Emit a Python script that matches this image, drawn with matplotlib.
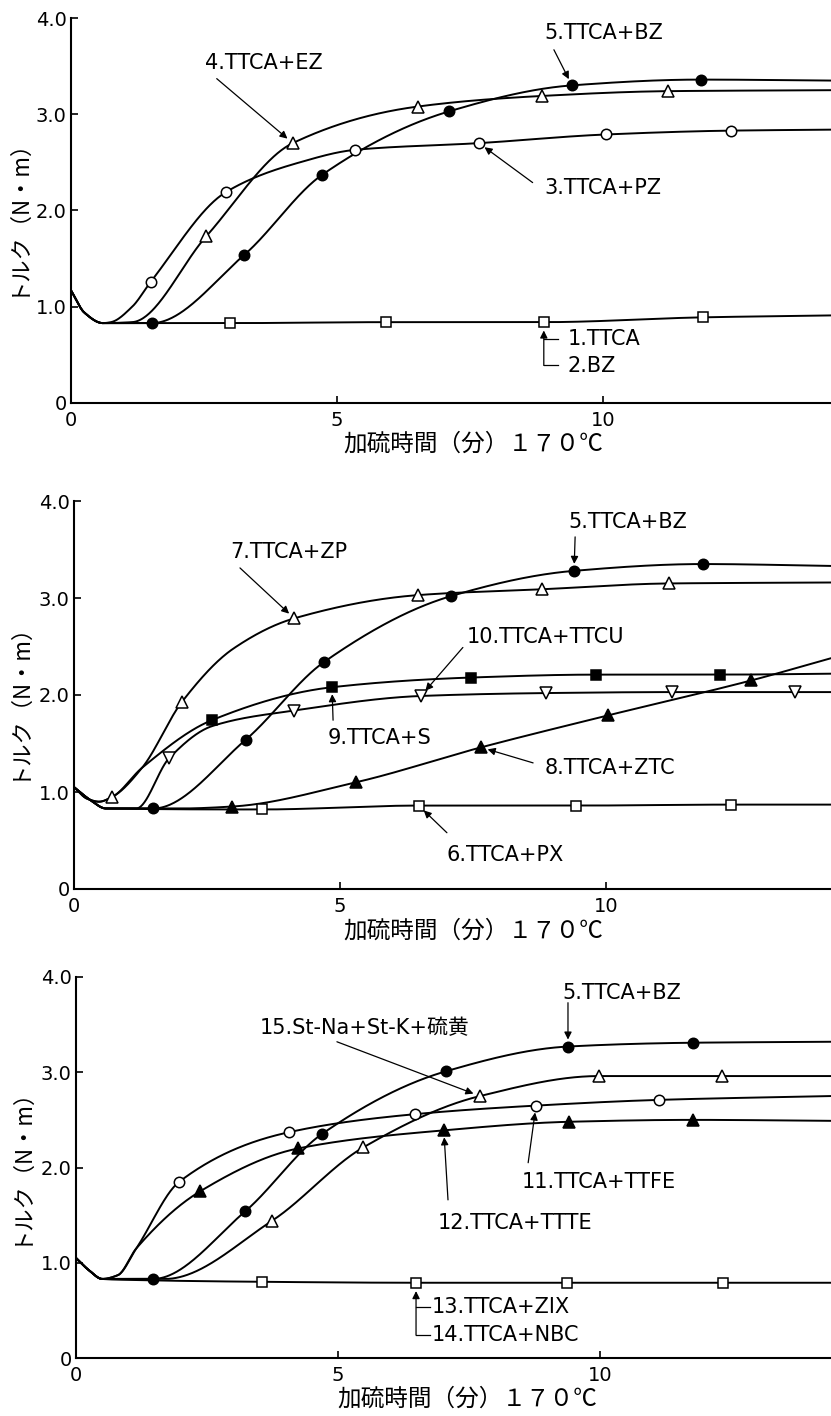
import matplotlib.pyplot as plt
import numpy as np

plt.rcParams['font.family'] = ['DejaVu Sans', 'Noto Sans CJK JP']
JP = ['Noto Sans CJK JP', 'DejaVu Sans']

XLABEL = '加硫時間（分）１７０℃'
YLABEL = 'トルク（N・m）'
Y_TICKS = [0, 1, 2, 3, 4]
Y_TICKLABELS = ['0', '1.0', '2.0', '3.0', '4.0']
X_TICKS = [0, 5, 10]
X_TICKLABELS = ['0', '5', '10']

# ---- panel 1 ----  (X/Y = marked points, KX/KY = unmarked points on the curve)
P1_TTCA_X = [2.99, 5.92, 8.89, 11.88]
P1_TTCA_Y = [0.83, 0.84, 0.84, 0.89]
P1_TTCA_KX = [0, 0.25, 0.6, 1.5, 14.3]
P1_TTCA_KY = [1.17, 0.94, 0.83, 0.83, 0.91]

P1_PZ_X = [1.50, 2.91, 5.34, 7.67, 10.06, 12.41]
P1_PZ_Y = [1.26, 2.19, 2.63, 2.70, 2.79, 2.83]
P1_PZ_KX = [0, 0.25, 0.6, 0.75, 1.15, 4.3, 14.3]
P1_PZ_KY = [1.17, 0.94, 0.83, 0.84, 1.0, 2.50, 2.84]

P1_EZ_X = [2.54, 4.17, 6.52, 8.85, 11.22]
P1_EZ_Y = [1.73, 2.70, 3.08, 3.19, 3.24]
P1_EZ_KX = [0, 0.25, 0.6, 1.15, 14.3]
P1_EZ_KY = [1.17, 0.94, 0.83, 0.84, 3.25]

P1_BZ_X = [1.52, 3.26, 4.72, 7.11, 9.42, 11.84]
P1_BZ_Y = [0.83, 1.54, 2.37, 3.03, 3.30, 3.36]
P1_BZ_KX = [0, 0.25, 0.6, 14.3]
P1_BZ_KY = [1.17, 0.94, 0.83, 3.35]

# ---- panel 2 ----
P2_PX_X = [3.54, 6.48, 9.44, 12.35]
P2_PX_Y = [0.82, 0.86, 0.86, 0.87]
P2_PX_KX = [0, 0.3, 0.6, 14.3]
P2_PX_KY = [1.05, 0.92, 0.83, 0.87]

P2_ZP_X = [0.72, 2.03, 4.14, 6.47, 8.80, 11.18]
P2_ZP_Y = [0.95, 1.93, 2.79, 3.03, 3.09, 3.15]
P2_ZP_KX = [0, 0.25, 0.47, 1.28, 3.0, 14.3]
P2_ZP_KY = [1.05, 0.93, 0.90, 1.25, 2.48, 3.16]

P2_ZTC_X = [2.97, 5.30, 7.65, 10.04, 12.73]
P2_ZTC_Y = [0.85, 1.10, 1.46, 1.79, 2.15]
P2_ZTC_KX = [0, 0.3, 0.6, 2.0, 14.3]
P2_ZTC_KY = [1.05, 0.92, 0.83, 0.83, 2.39]

P2_BZ_X = [1.49, 3.23, 4.70, 7.09, 9.40, 11.82]
P2_BZ_Y = [0.83, 1.54, 2.34, 3.02, 3.28, 3.35]
P2_BZ_KX = [0, 0.3, 0.6, 14.3]
P2_BZ_KY = [1.05, 0.92, 0.83, 3.33]

P2_S_X = [2.59, 4.85, 7.46, 9.81, 12.14]
P2_S_Y = [1.74, 2.08, 2.18, 2.21, 2.21]
P2_S_KX = [0, 0.25, 0.47, 0.72, 1.28, 14.3]
P2_S_KY = [1.05, 0.93, 0.90, 0.95, 1.25, 2.22]

P2_TTCU_X = [1.79, 4.14, 6.52, 8.87, 11.24, 13.55]
P2_TTCU_Y = [1.35, 1.84, 1.99, 2.02, 2.03, 2.03]
P2_TTCU_KX = [0, 0.3, 0.6, 1.17, 2.6, 14.3]
P2_TTCU_KY = [1.05, 0.92, 0.83, 0.83, 1.68, 2.03]

# ---- panel 3 ----
P3_ZIX_X = [3.55, 6.49, 9.37, 12.35]
P3_ZIX_Y = [0.80, 0.79, 0.79, 0.79]
P3_ZIX_KX = [0, 0.25, 0.5, 1.0, 14.4]
P3_ZIX_KY = [1.05, 0.92, 0.83, 0.82, 0.79]

P3_TTFE_X = [1.97, 4.06, 6.47, 8.78, 11.13]
P3_TTFE_Y = [1.85, 2.37, 2.56, 2.65, 2.71]
P3_TTFE_KX = [0, 0.25, 0.5, 0.8, 1.15, 14.4]
P3_TTFE_KY = [1.05, 0.92, 0.83, 0.87, 1.15, 2.75]

P3_TTTE_X = [2.37, 4.24, 7.02, 9.41, 11.77]
P3_TTTE_Y = [1.75, 2.20, 2.39, 2.48, 2.50]
P3_TTTE_KX = [0, 0.25, 0.5, 0.8, 1.15, 14.4]
P3_TTTE_KY = [1.05, 0.92, 0.83, 0.87, 1.15, 2.49]

P3_BZ_X = [1.47, 3.23, 4.69, 7.06, 9.39, 11.77]
P3_BZ_Y = [0.83, 1.54, 2.35, 3.01, 3.27, 3.31]
P3_BZ_KX = [0, 0.25, 0.5, 14.4]
P3_BZ_KY = [1.05, 0.92, 0.83, 3.32]

P3_ST_X = [3.74, 5.48, 7.71, 9.98, 12.33]
P3_ST_Y = [1.44, 2.21, 2.75, 2.96, 2.96]
P3_ST_KX = [0, 0.25, 0.5, 1.7, 14.4]
P3_ST_KY = [1.05, 0.92, 0.83, 0.83, 2.96]

FIG_W, FIG_H = 831, 1416
# (left, right, bottom, top) in pixels, and x range shown
PANELS = [
    ((71, 831, 403, 18), 14.29),
    ((74, 831, 889, 501), 14.23),
    ((76, 831, 1358, 977), 14.41),
]


def pchip(x, y, xs):
    x = np.asarray(x, float)
    y = np.asarray(y, float)
    h = np.diff(x)
    d = np.diff(y) / h
    m = np.zeros_like(y)
    m[0], m[-1] = d[0], d[-1]
    for k in range(1, len(x) - 1):
        if d[k - 1] * d[k] > 0:
            w1 = 2 * h[k] + h[k - 1]
            w2 = h[k] + 2 * h[k - 1]
            m[k] = (w1 + w2) / (w1 / d[k - 1] + w2 / d[k])
    idx = np.clip(np.searchsorted(x, xs) - 1, 0, len(x) - 2)
    t = (xs - x[idx]) / h[idx]
    h00 = 2 * t**3 - 3 * t**2 + 1
    h10 = t**3 - 2 * t**2 + t
    h01 = -2 * t**3 + 3 * t**2
    h11 = t**3 - t**2
    return h00 * y[idx] + h10 * h[idx] * m[idx] + h01 * y[idx + 1] + h11 * h[idx] * m[idx + 1]


def draw_series(ax, mx, my, kx, ky, marker, filled, ms):
    cx = np.array(list(mx) + list(kx), float)
    cy = np.array(list(my) + list(ky), float)
    order = np.argsort(cx)
    xs = np.linspace(cx.min(), cx.max(), 800)
    ax.plot(xs, pchip(cx[order], cy[order], xs), color='black', lw=1.4, zorder=2)
    ax.plot(mx, my, ls='none', marker=marker, ms=ms, mew=1.1,
            mfc='black' if filled else 'white', mec='black', zorder=3)


def arrow(ax, tail, head, shrink=5):
    ax.annotate('', xy=head, xytext=tail,
                arrowprops=dict(arrowstyle='-|>', color='black', lw=0.9,
                                mutation_scale=11, shrinkA=0, shrinkB=shrink))


def label(ax, x, y, s):
    ax.text(x, y, s, fontsize=15, ha='left', va='center')


def bracket(ax, mx, my, y_top, y_bot, x_end):
    arrow(ax, (mx, y_bot), (mx, my), shrink=6)
    ax.plot([mx, x_end], [y_top, y_top], color='black', lw=0.9)
    ax.plot([mx, x_end], [y_bot, y_bot], color='black', lw=0.9)


def setup_axes(fig, box, xmax, xlab_pos, ylab_pos):
    left, right, bottom, top = box
    ax = fig.add_axes([left / FIG_W, 1 - bottom / FIG_H,
                       (right - left) / FIG_W, (bottom - top) / FIG_H])
    ax.set_xlim(0, xmax)
    ax.set_ylim(0, 4.0)
    for side in ('top', 'right'):
        ax.spines[side].set_visible(False)
    for side in ('left', 'bottom'):
        ax.spines[side].set_linewidth(1.5)
    ax.set_xticks(X_TICKS)
    ax.set_xticklabels(X_TICKLABELS)
    ax.set_yticks(Y_TICKS)
    ax.set_yticklabels(Y_TICKLABELS)
    ax.tick_params(direction='in', length=5, width=1.2, labelsize=14)
    ax.tick_params(axis='x', pad=6)
    ax.tick_params(axis='y', pad=3)
    ax.set_xlabel(XLABEL, family=JP, fontsize=17)
    ax.xaxis.set_label_coords(*xlab_pos)
    ax.set_ylabel(YLABEL, family=JP, fontsize=16)
    ax.yaxis.set_label_coords(*ylab_pos)
    return ax


fig = plt.figure(figsize=(FIG_W / 100, FIG_H / 100), dpi=100)

# panel 1
ax = setup_axes(fig, *PANELS[0], (0.529, -0.076), (-0.057, 0.5))
draw_series(ax, P1_TTCA_X, P1_TTCA_Y, P1_TTCA_KX, P1_TTCA_KY, 's', False, 7)
draw_series(ax, P1_PZ_X, P1_PZ_Y, P1_PZ_KX, P1_PZ_KY, 'o', False, 7.5)
draw_series(ax, P1_EZ_X, P1_EZ_Y, P1_EZ_KX, P1_EZ_KY, '^', False, 8.5)
draw_series(ax, P1_BZ_X, P1_BZ_Y, P1_BZ_KX, P1_BZ_KY, 'o', True, 7.5)
label(ax, 2.52, 3.53, '4.TTCA+EZ')
arrow(ax, (2.74, 3.37), (P1_EZ_X[1], P1_EZ_Y[1]))
label(ax, 8.91, 3.84, '5.TTCA+BZ')
arrow(ax, (9.08, 3.67), (P1_BZ_X[4], P1_BZ_Y[4]))
label(ax, 8.91, 2.23, '3.TTCA+PZ')
arrow(ax, (8.68, 2.29), (P1_PZ_X[3], P1_PZ_Y[3]))
bracket(ax, P1_TTCA_X[2], P1_TTCA_Y[2], 0.66, 0.39, 9.15)
label(ax, 9.34, 0.66, '1.TTCA')
label(ax, 9.34, 0.38, '2.BZ')

# panel 2
ax = setup_axes(fig, *PANELS[1], (0.527, -0.078), (-0.060, 0.5))
draw_series(ax, P2_PX_X, P2_PX_Y, P2_PX_KX, P2_PX_KY, 's', False, 7)
draw_series(ax, P2_ZP_X, P2_ZP_Y, P2_ZP_KX, P2_ZP_KY, '^', False, 8.5)
draw_series(ax, P2_ZTC_X, P2_ZTC_Y, P2_ZTC_KX, P2_ZTC_KY, '^', True, 8.5)
draw_series(ax, P2_BZ_X, P2_BZ_Y, P2_BZ_KX, P2_BZ_KY, 'o', True, 7.5)
draw_series(ax, P2_S_X, P2_S_Y, P2_S_KX, P2_S_KY, 's', True, 7)
draw_series(ax, P2_TTCU_X, P2_TTCU_Y, P2_TTCU_KX, P2_TTCU_KY, 'v', False, 8.5)
label(ax, 2.93, 3.47, '7.TTCA+ZP')
arrow(ax, (3.12, 3.31), (P2_ZP_X[2], P2_ZP_Y[2]))
label(ax, 9.29, 3.78, '5.TTCA+BZ')
arrow(ax, (9.42, 3.63), (P2_BZ_X[4], P2_BZ_Y[4]))
label(ax, 7.39, 2.60, '10.TTCA+TTCU')
arrow(ax, (7.31, 2.49), (P2_TTCU_X[2], P2_TTCU_Y[2]))
label(ax, 4.77, 1.56, '9.TTCA+S')
arrow(ax, (4.87, 1.74), (P2_S_X[1], P2_S_Y[1]))
label(ax, 8.85, 1.25, '8.TTCA+ZTC')
arrow(ax, (8.63, 1.30), (P2_ZTC_X[2], P2_ZTC_Y[2]))
label(ax, 7.01, 0.35, '6.TTCA+PX')
arrow(ax, (7.01, 0.58), (P2_PX_X[1], P2_PX_Y[1]))

# panel 3
ax = setup_axes(fig, *PANELS[2], (0.518, -0.078), (-0.060, 0.52))
draw_series(ax, P3_ZIX_X, P3_ZIX_Y, P3_ZIX_KX, P3_ZIX_KY, 's', False, 7)
draw_series(ax, P3_TTFE_X, P3_TTFE_Y, P3_TTFE_KX, P3_TTFE_KY, 'o', False, 7.5)
draw_series(ax, P3_TTTE_X, P3_TTTE_Y, P3_TTTE_KX, P3_TTTE_KY, '^', True, 8.5)
draw_series(ax, P3_BZ_X, P3_BZ_Y, P3_BZ_KX, P3_BZ_KY, 'o', True, 7.5)
draw_series(ax, P3_ST_X, P3_ST_Y, P3_ST_KX, P3_ST_KY, '^', False, 8.5)
label(ax, 9.29, 3.83, '5.TTCA+BZ')
arrow(ax, (9.39, 3.73), (P3_BZ_X[4], P3_BZ_Y[4]))
label(ax, 3.51, 3.46, '15.St-Na+St-K+硫黄')
arrow(ax, (4.98, 3.32), (P3_ST_X[2], P3_ST_Y[2]))
label(ax, 8.51, 1.85, '11.TTCA+TTFE')
arrow(ax, (8.63, 2.05), (P3_TTFE_X[3], P3_TTFE_Y[3]))
label(ax, 6.91, 1.42, '12.TTCA+TTTE')
arrow(ax, (7.10, 1.66), (P3_TTTE_X[2], P3_TTTE_Y[2]))
bracket(ax, P3_ZIX_X[1], P3_ZIX_Y[1], 0.54, 0.24, 6.76)
label(ax, 6.79, 0.54, '13.TTCA+ZIX')
label(ax, 6.79, 0.24, '14.TTCA+NBC')

fig.savefig('out.png', dpi=100)
